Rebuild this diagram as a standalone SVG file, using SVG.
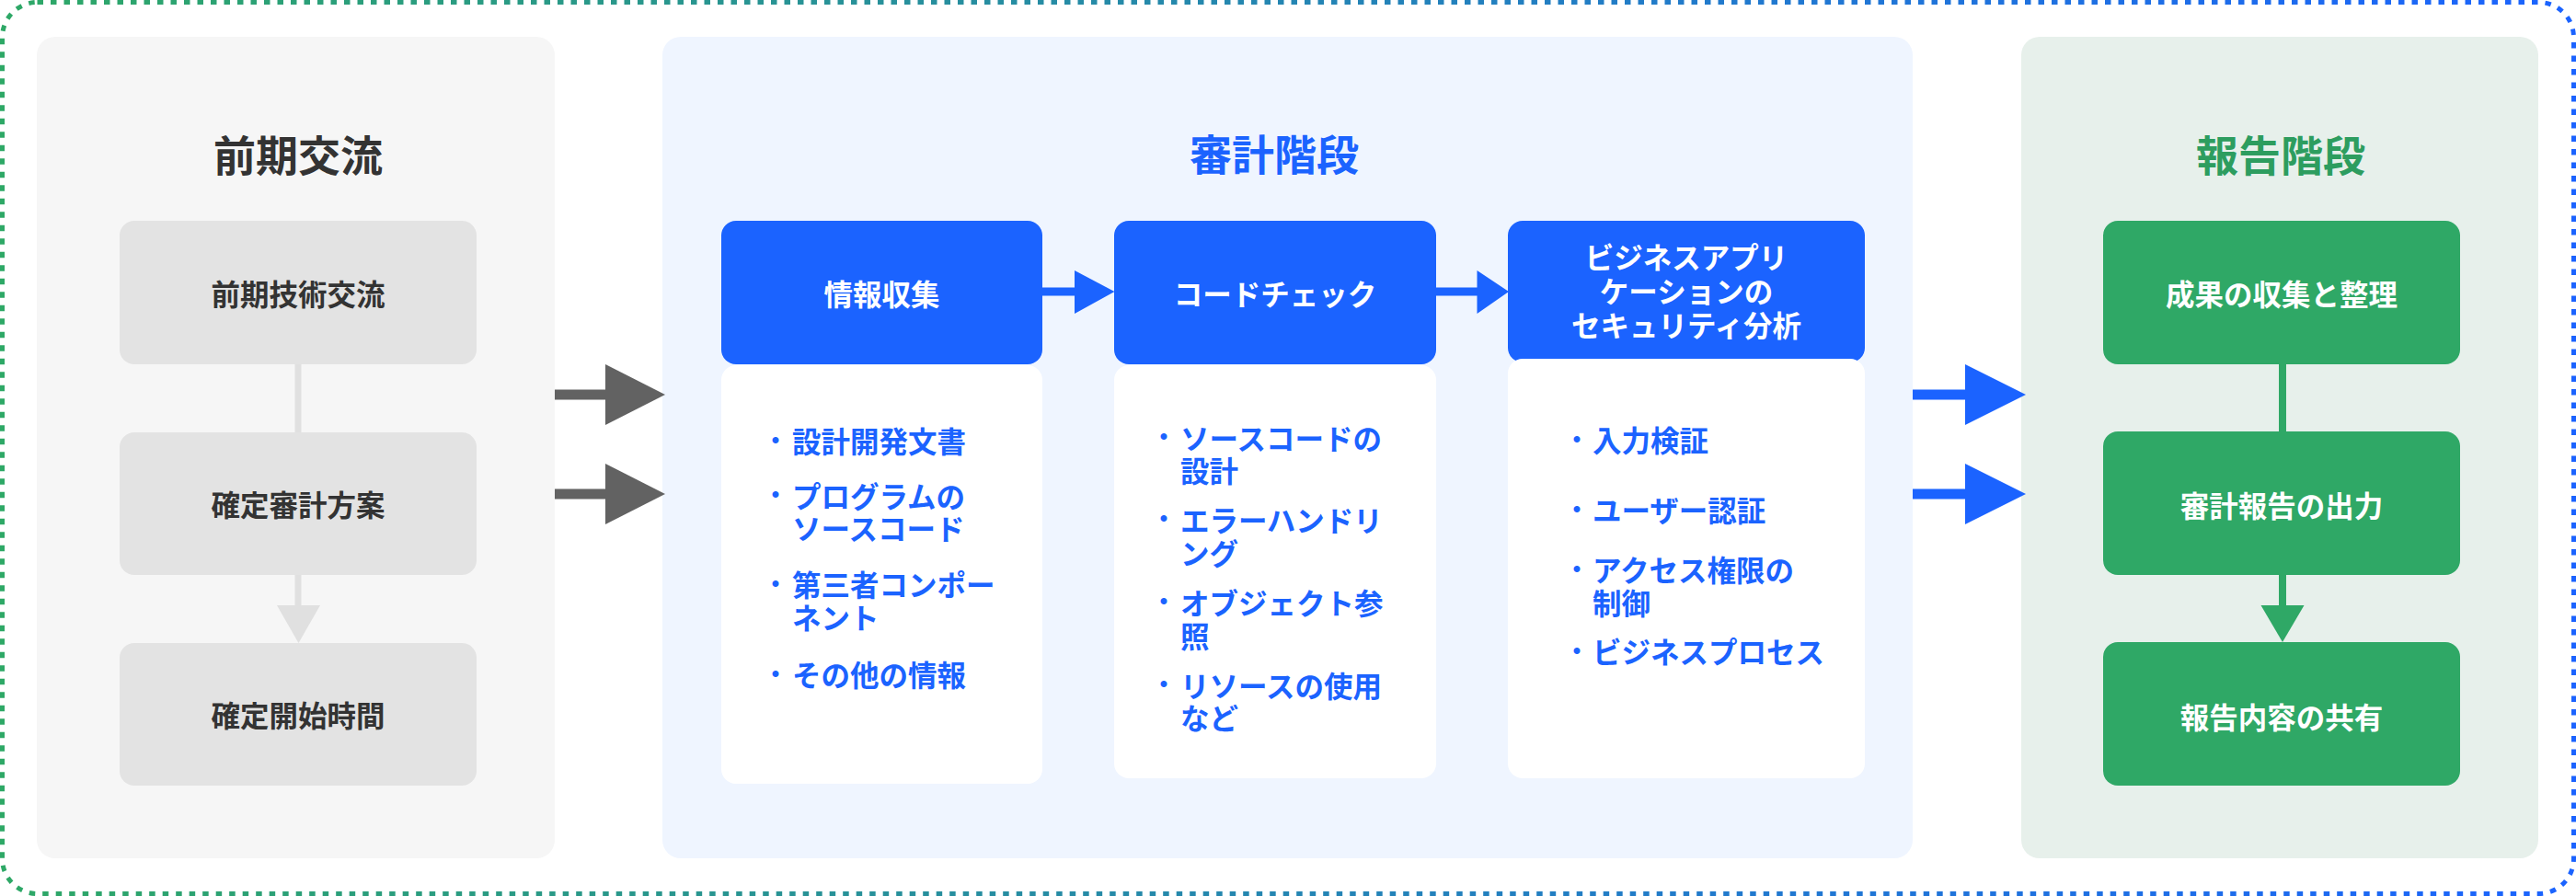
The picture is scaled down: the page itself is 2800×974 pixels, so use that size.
<svg xmlns="http://www.w3.org/2000/svg" width="2800" height="974" viewBox="0 0 2800 974">
<defs>
<linearGradient id="bd" x1="0" y1="0" x2="1" y2="0">
<stop offset="0" stop-color="#2ea866"/>
<stop offset="1" stop-color="#1b63ff"/>
</linearGradient>
<style>
text{font-family:"Noto Sans CJK JP","Noto Sans CJK SC",sans-serif;font-weight:700;dominant-baseline:central}
.title{font-size:46px;text-anchor:middle}
.lbl{font-size:31.5px;text-anchor:middle}
.item{font-size:31.5px;fill:#1b63ff}
.dot{font-family:"Liberation Sans",sans-serif;font-size:24px;fill:#1b63ff;text-anchor:middle}
.gbox{fill:#e3e3e3}
.bbox{fill:#1b63ff}
.card{fill:#ffffff}
.grbox{fill:#2fa866}
.wt{fill:#ffffff}
.dk{fill:#333333}
</style>
</defs>
<rect x="2.5" y="2.5" width="2795" height="969" rx="38" fill="#ffffff" stroke="url(#bd)" stroke-width="5" stroke-dasharray="6.5 8"/>

<g id="phase-pre">
<rect x="40" y="40" width="563" height="893" rx="20" fill="#f6f6f6"/>
<text class="title dk" x="324" y="166">前期交流</text>
</g>
<g id="pre-1"><rect class="gbox" x="130" y="240" width="388" height="156" rx="16"/><text class="lbl dk" x="324" y="318">前期技術交流</text></g>
<g id="pre-2"><rect class="gbox" x="130" y="470" width="388" height="155" rx="16"/><text class="lbl dk" x="324" y="547">確定審計方案</text></g>
<g id="pre-3"><rect class="gbox" x="130" y="699" width="388" height="155" rx="16"/><text class="lbl dk" x="324" y="776">確定開始時間</text></g>

<g id="phase-audit">
<rect x="720" y="40" width="1359" height="893" rx="20" fill="#eff5ff"/>
<text class="title" fill="#1b63ff" x="1385" y="165">審計階段</text>
</g>
<g id="audit-1">
<rect class="card" x="784" y="397" width="349" height="455" rx="16"/>
<rect class="bbox" x="784" y="240" width="349" height="156" rx="16"/>
<text class="lbl wt" x="958.5" y="318">情報収集</text>
<text class="dot" x="843" y="477">•</text><text class="item" x="861" y="478">設計開発文書</text>
<text class="dot" x="843" y="536">•</text><text class="item" x="861" y="537.5">プログラムの<tspan x="861" dy="35.5">ソースコード</tspan></text>
<text class="dot" x="843" y="633">•</text><text class="item" x="861" y="634">第三者コンポー<tspan x="861" dy="36">ネント</tspan></text>
<text class="dot" x="843" y="731">•</text><text class="item" x="861" y="732">その他の情報</text>
</g>
<g id="audit-2">
<rect class="card" x="1211" y="397" width="350" height="449" rx="16"/>
<rect class="bbox" x="1211" y="240" width="350" height="156" rx="16"/>
<text class="lbl wt" x="1386" y="318">コードチェック</text>
<text class="dot" x="1265" y="473">•</text><text class="item" x="1283" y="474.5">ソースコードの<tspan x="1283" dy="35.5">設計</tspan></text>
<text class="dot" x="1265" y="562.5">•</text><text class="item" x="1283" y="564">エラーハンドリ<tspan x="1283" dy="35.5">ング</tspan></text>
<text class="dot" x="1265" y="652.5">•</text><text class="item" x="1283" y="654">オブジェクト参<tspan x="1283" dy="36">照</tspan></text>
<text class="dot" x="1265" y="742">•</text><text class="item" x="1283" y="743.5">リソースの使用<tspan x="1283" dy="35.5">など</tspan></text>
</g>
<g id="audit-3">
<rect class="bbox" x="1639" y="240" width="388" height="154" rx="16"/>
<rect class="card" x="1639" y="390" width="388" height="456" rx="16"/>
<text class="lbl wt" x="1833" y="278">ビジネスアプリ<tspan x="1833" dy="37">ケーションの</tspan><tspan x="1833" dy="37">セキュリティ分析</tspan></text>
<text class="dot" x="1714" y="476">•</text><text class="item" x="1731" y="477">入力検証</text>
<text class="dot" x="1714" y="552">•</text><text class="item" x="1731" y="553">ユーザー認証</text>
<text class="dot" x="1714" y="617">•</text><text class="item" x="1731" y="618">アクセス権限の<tspan x="1731" dy="35.5">制御</tspan></text>
<text class="dot" x="1714" y="706">•</text><text class="item" x="1731" y="707">ビジネスプロセス</text>
</g>

<g id="phase-report">
<rect x="2197" y="40" width="562" height="893" rx="20" fill="#e7f0eb"/>
<text class="title" fill="#2d9d5f" x="2479" y="166">報告階段</text>
</g>
<g id="rep-1"><rect class="grbox" x="2286" y="240" width="388" height="156" rx="16"/><text class="lbl wt" x="2480" y="318">成果の収集と整理</text></g>
<g id="rep-2"><rect class="grbox" x="2286" y="469" width="388" height="156" rx="16"/><text class="lbl wt" x="2480" y="548">審計報告の出力</text></g>
<g id="rep-3"><rect class="grbox" x="2286" y="698" width="388" height="156" rx="16"/><text class="lbl wt" x="2480" y="778">報告内容の共有</text></g>

<g id="connectors">
<line x1="324" y1="396" x2="324" y2="470" stroke="#e0e0e0" stroke-width="7"/>
<line x1="324" y1="625" x2="324" y2="660" stroke="#e0e0e0" stroke-width="7"/>
<polygon points="301,658 348,658 324.5,699" fill="#e0e0e0"/>
<line x1="2481" y1="396" x2="2481" y2="469" stroke="#2fa866" stroke-width="8"/>
<line x1="2481" y1="625" x2="2481" y2="660" stroke="#2fa866" stroke-width="8"/>
<polygon points="2457.5,658 2504.5,658 2481,698" fill="#2fa866"/>
<line x1="1133" y1="317" x2="1170" y2="317" stroke="#1b63ff" stroke-width="9"/>
<polygon points="1168,294 1211.5,317 1168,341" fill="#1b63ff"/>
<line x1="1561" y1="317" x2="1607" y2="317" stroke="#1b63ff" stroke-width="9"/>
<polygon points="1605.5,294 1640,317 1605.5,341" fill="#1b63ff"/>
<line x1="603" y1="429" x2="660" y2="429" stroke="#626262" stroke-width="11"/>
<polygon points="658,396 723,429 658,462" fill="#626262"/>
<line x1="603" y1="537" x2="660" y2="537" stroke="#626262" stroke-width="11"/>
<polygon points="658,504 723,537 658,570" fill="#626262"/>
<line x1="2079" y1="429" x2="2138" y2="429" stroke="#1b63ff" stroke-width="11"/>
<polygon points="2136,396 2202,429 2136,462" fill="#1b63ff"/>
<line x1="2079" y1="537" x2="2138" y2="537" stroke="#1b63ff" stroke-width="11"/>
<polygon points="2136,504 2202,537 2136,570" fill="#1b63ff"/>
</g>
</svg>
